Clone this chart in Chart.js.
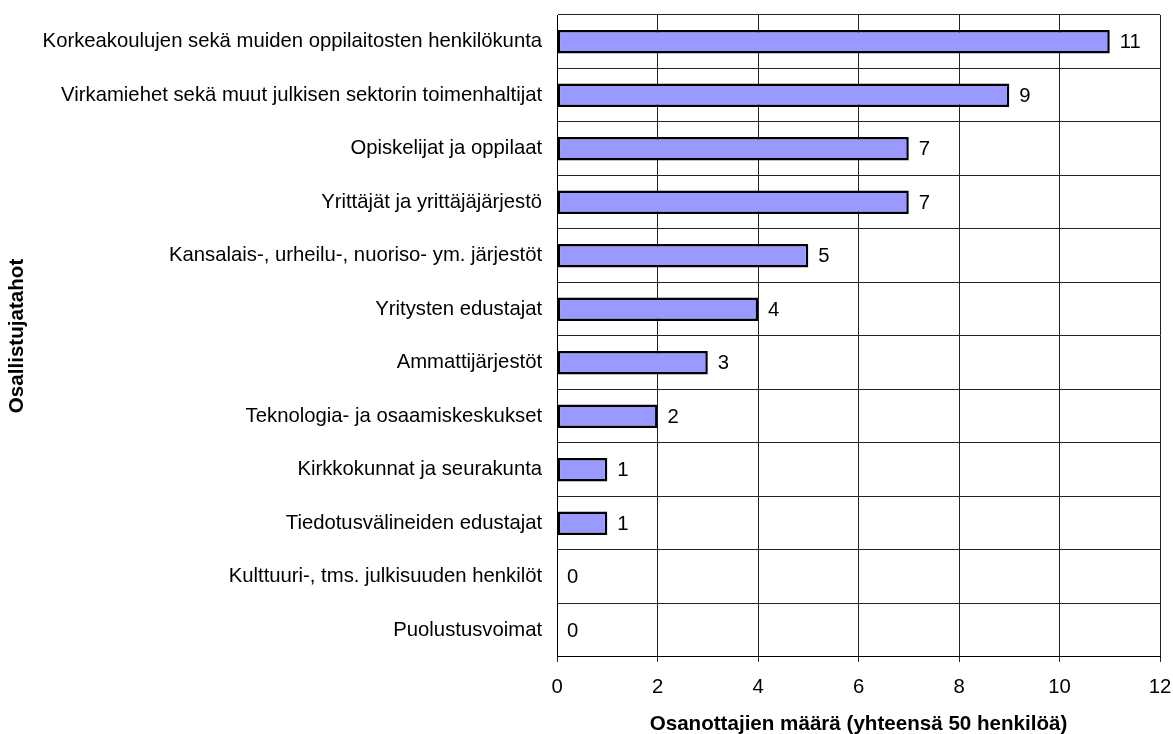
<!DOCTYPE html>
<html>
<head>
<meta charset="utf-8">
<script src="https://cdn.jsdelivr.net/npm/chart.js@4/dist/chart.umd.min.js"></script>
<style>
html,body{margin:0;padding:0;background:#fff;}
#wrap{width:1173px;height:734px;position:relative;}
</style>
</head>
<body>
<div id="wrap"><canvas id="c"></canvas></div>
<script>
const categories = [
  "Korkeakoulujen sekä muiden oppilaitosten henkilökunta",
  "Virkamiehet sekä muut julkisen sektorin toimenhaltijat",
  "Opiskelijat ja oppilaat",
  "Yrittäjät ja yrittäjäjärjestö",
  "Kansalais-, urheilu-, nuoriso- ym. järjestöt",
  "Yritysten edustajat",
  "Ammattijärjestöt",
  "Teknologia- ja osaamiskeskukset",
  "Kirkkokunnat ja seurakunta",
  "Tiedotusvälineiden edustajat",
  "Kulttuuri-, tms. julkisuuden henkilöt",
  "Puolustusvoimat"
];
const values = [11, 9, 7, 7, 5, 4, 3, 2, 1, 1, 0, 0];
const xTitle = "Osanottajien määrä (yhteensä 50 henkilöä)";
const yTitle = "Osallistujatahot";

const FONT = "'Liberation Sans', Arial, sans-serif";
const FS = 20.3;
const TS = 20.6;

const valueLabels = {
  id: 'valueLabels',
  afterDatasetsDraw(chart) {
    const ctx = chart.ctx;
    const meta = chart.getDatasetMeta(0);
    ctx.save();
    ctx.font = FS + "px " + FONT;
    ctx.fillStyle = "#000";
    ctx.textBaseline = "middle";
    ctx.textAlign = "left";
    meta.data.forEach((bar, i) => {
      ctx.fillText(String(values[i]), bar.x + 10, bar.y + 1);
    });
    ctx.restore();
  }
};

new Chart(document.getElementById('c'), {
  type: 'bar',
  data: {
    labels: categories,
    datasets: [{
      data: values,
      backgroundColor: '#9999FF',
      borderColor: '#000',
      borderWidth: 2.5,
      borderSkipped: false,
      barPercentage: 0.44,
      categoryPercentage: 1.0
    }]
  },
  options: {
    indexAxis: 'y',
    responsive: true,
    maintainAspectRatio: false,
    animation: false,
    layout: { padding: { left: 3, top: 15, right: 13, bottom: -3 } },
    plugins: { legend: { display: false }, tooltip: { enabled: false } },
    scales: {
      x: {
        min: 0, max: 12,
        afterFit(scale) { scale.paddingLeft = 0; scale.paddingRight = 0; },
        ticks: { stepSize: 2, color: '#000', font: { family: FONT, size: FS }, padding: 13 },
        grid: { color: '#222', lineWidth: 1, drawTicks: true, tickLength: 5 },
        border: { display: true, color: '#000', width: 1 },
        title: { display: true, text: xTitle, color: '#000', font: { family: FONT, size: TS, weight: 'bold' }, padding: { top: 0, bottom: 0 } }
      },
      y: {
        afterFit(scale) { scale.paddingTop = 0; scale.paddingBottom = 0; },
        ticks: { color: '#000', font: { family: FONT, size: FS }, padding: 15 },
        grid: { color: '#222', lineWidth: 1, offset: true, drawTicks: false, tickLength: 0 },
        border: { display: true, color: '#000', width: 1 },
        title: { display: true, text: yTitle, color: '#000', font: { family: FONT, size: TS, weight: 'bold', lineHeight: 1 }, padding: { top: 4, bottom: 0 } }
      }
    }
  },
  plugins: [valueLabels]
});
</script>
</body>
</html>
